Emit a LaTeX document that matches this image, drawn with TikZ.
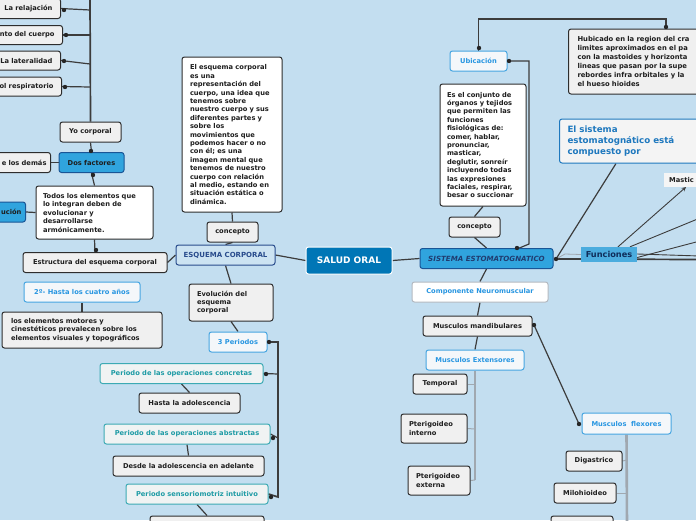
\documentclass[tikz,border=0pt]{standalone}
\usepackage{fontspec}
\setmainfont{DejaVu Sans}
\usetikzlibrary{arrows}

\definecolor{bgblue}{RGB}{195,222,240}
\definecolor{boxgray}{RGB}{240,240,240}
\definecolor{boxline}{RGB}{45,45,45}
\definecolor{txtdark}{RGB}{30,30,30}
\definecolor{midblue}{RGB}{48,164,222}
\definecolor{deepblue}{RGB}{25,85,150}
\definecolor{saludblue}{RGB}{0,118,182}
\definecolor{paleface}{RGB}{244,247,250}
\definecolor{lineblue}{RGB}{70,165,225}
\definecolor{txtblue}{RGB}{40,150,225}
\definecolor{tealface}{RGB}{240,243,243}
\definecolor{tealline}{RGB}{60,170,180}
\definecolor{txtteal}{RGB}{30,155,165}
\definecolor{navy}{RGB}{40,75,140}
\definecolor{linkgray}{RGB}{60,60,60}
\definecolor{branchgray}{RGB}{160,168,176}
\definecolor{sisblue}{RGB}{30,120,190}
\definecolor{funcblue}{RGB}{75,172,222}
\definecolor{functext}{RGB}{15,45,90}

\pgfdeclarelayer{back}
\pgfsetlayers{back,main}

\newcommand\mapfont{\bfseries\fontsize{6.7}{8.4}\selectfont}

\tikzset{
  box/.style={draw=boxline, fill=boxgray, rounded corners=2.5pt, line width=1pt,
    font=\mapfont, text=txtdark, inner sep=0pt, minimum height=20pt},
  wbox/.style={box, fill=white},
  bluebox/.style={box, fill=midblue, draw=deepblue},
  lbox/.style={box, fill=paleface, draw=lineblue, text=txtblue},
  tbox/.style={box, fill=tealface, draw=tealline, text=txtteal},
  cutl/.style={anchor=east, text width=90pt, align=right, inner xsep=8pt},
  link/.style={draw=linkgray, line width=1.2pt},
  trunk/.style={draw=linkgray, line width=1.7pt},
  gline/.style={draw=branchgray, line width=1pt},
  dotc/.style={fill=black!85},
}

\begin{document}
\begin{tikzpicture}[x=1pt, y=-1pt, >=stealth]
\useasboundingbox (0,0) rectangle (696,520);
\clip (0,0) rectangle (696,520);
\begin{pgfonlayer}{back}
\fill[bgblue] (0,0) rectangle (696,520);
\end{pgfonlayer}

% left branch
\node[box, cutl] (relax) at (61,8.5) {La relajación};
\node[box, cutl, minimum height=19pt] (cuerpo) at (63,35) {nto del cuerpo};
\node[box, cutl, minimum height=19pt] (lateral) at (61,60.5) {La lateralidad};
\node[box, cutl, minimum height=19pt] (respir) at (62,86.5) {ol respiratorio};
\node[box, minimum width=61pt] (yo) at (90.5,132) {Yo corporal};
\node[bluebox, minimum width=65pt] (dosf) at (91.5,162.5) {Dos factores};
\node[box, cutl, inner xsep=4pt] (demas) at (51,162.5) {e los demás};
\node[bluebox, cutl, inner xsep=4pt] (evolu) at (26,212) {ución};
\node[wbox, minimum width=117pt, minimum height=53pt, text width=103pt, align=left,
  inner xsep=7pt, font=\bfseries\fontsize{6.7}{8.5}\selectfont] (todos) at (94.5,212.5)
  {Todos los elementos que\\lo integran deben de\\evolucionar y\\desarrollarse\\armónicamente.};
\node[box, minimum width=144pt] (estruc) at (95,262.5) {Estructura del esquema corporal};
\node[lbox, minimum width=116pt] (hasta4) at (82,292) {2º- Hasta los cuatro años};
\node[box, minimum width=160pt, minimum height=36pt, text width=142pt, align=left,
  inner xsep=9pt] (motores) at (82,330)
  {los elementos motores y\\cinestéticos prevalecen sobre los\\elementos visuales y topográficos};

% esquema corporal
\node[wbox, minimum width=100pt, minimum height=155pt, text width=84pt, align=left,
  inner xsep=8pt] (defin) at (232,134.5)
  {El esquema corporal\\es una\\representación del\\cuerpo, una idea que\\tenemos sobre\\nuestro cuerpo y sus\\diferentes partes y\\sobre los\\movimientos que\\podemos hacer o no\\con él; es una\\imagen mental que\\tenemos de nuestro\\cuerpo con relación\\al medio, estando en\\situación estática o\\dinámica.};
\node[box, minimum width=51pt] (concepto1) at (232.5,232) {concepto};
\node[box, fill=bgblue!85!white, draw=navy, text=navy, minimum width=99pt,
  font=\bfseries\fontsize{7}{8}\selectfont] (esquema) at (225.5,255) {ESQUEMA CORPORAL};
\node[box, fill=saludblue, draw=white, text=white, minimum width=86pt, minimum height=27pt,
  font=\bfseries\fontsize{9}{10}\selectfont] (salud) at (349,260.5) {SALUD ORAL};
\node[box, minimum width=84pt, minimum height=37pt, text width=68pt, align=left,
  inner xsep=8pt] (evolucion) at (231,302.5) {Evolución del\\esquema\\corporal};
\node[lbox, minimum width=58pt] (periodos3) at (238,342) {3 Periodos};
\node[tbox, minimum width=163pt] (concretas) at (181.5,373.5) {Periodo de las operaciones concretas};
\node[box, minimum width=101pt] (adolesc) at (189.5,403) {Hasta la adolescencia};
\node[tbox, minimum width=166pt] (abstractas) at (187,434) {Periodo de las operaciones abstractas};
\node[box, minimum width=151pt] (desde) at (188.5,466) {Desde la adolescencia en adelante};
\node[tbox, minimum width=142pt] (sensorio) at (197,494) {Periodo sensoriomotriz intuitivo};
\node[box, minimum width=114pt, minimum height=24pt] (bajo1) at (207,528) {};

% sistema estomatognatico
\node[lbox, minimum width=57pt] (ubic) at (478.5,61) {Ubicación};
\node[box, anchor=west, minimum height=65pt, text width=150pt, align=left, inner xsep=9pt,
  font=\bfseries\fontsize{6.8}{9}\selectfont] (hubic) at (568,61.5)
  {Hubicado en la region del cra\\limites aproximados en el pa\\con la mastoides y horizonta\\lineas que pasan por la supe\\rebordes infra orbitales y la\\el hueso hioides};
\node[wbox, minimum width=86pt, minimum height=122pt, text width=72pt, align=left,
  inner xsep=7pt] (conjunto) at (483,145)
  {Es el conjunto de\\órganos y tejidos\\que permiten las\\funciones\\fisiológicas de:\\comer, hablar,\\pronunciar,\\masticar,\\deglutir, sonreír\\incluyendo todas\\las expresiones\\faciales, respirar,\\besar o succionar};
\node[box, anchor=west, fill=boxgray!70!white, draw=sisblue, text=sisblue, minimum height=44pt,
  text width=150pt, align=left, inner xsep=8pt,
  font=\bfseries\fontsize{8.7}{11}\selectfont] (sisdesc) at (559,141)
  {El sistema\\estomatognático está\\compuesto por};
\node[box, minimum width=51pt] (concepto2) at (474.5,227) {concepto};
\node[bluebox, minimum width=133pt, text=navy!80!black,
  font=\bfseries\itshape\fontsize{7.1}{8}\selectfont] (sistema) at (486.5,258.5) {SISTEMA ESTOMATOGNATICO};
\node[fill=funcblue, text=functext, minimum width=56pt, minimum height=15pt, inner sep=0pt,
  font=\bfseries\fontsize{8.2}{9}\selectfont] (funciones) at (609,254.5) {Funciones};
\node[fill=white!96!black, anchor=west, text=txtdark, minimum height=14pt, inner xsep=5pt,
  inner ysep=0pt, text width=60pt, align=left, font=\mapfont] (mastic) at (664,180) {Mastic};
\node[box, fill=white, draw=branchgray!80!white, text=txtblue, minimum width=136pt] (componente) at (480,292) {Componente Neuromuscular};
\node[box, minimum width=109pt] (mandib) at (477.5,326) {Musculos mandibulares};
\node[lbox, minimum width=98pt] (extens) at (475,360) {Musculos Extensores};
\node[box, minimum width=54pt] (temporal) at (440,384) {Temporal};
\node[box, minimum width=64pt, minimum height=29pt, text width=50pt, align=left,
  inner xsep=8pt] (ptint) at (434,428.5) {Pterigoideo\\interno};
\node[box, minimum width=62pt, minimum height=29pt, text width=46pt, align=left,
  inner xsep=8pt] (ptext) at (439,480.5) {Pterigoideo\\externa};
\node[lbox, minimum width=89pt, minimum height=21pt] (flexores) at (626.5,423.5) {Musculos\ \ flexores};
\node[box, minimum width=56pt] (digas) at (594,461) {Digastrico};
\node[box, minimum width=62pt] (milo) at (585,493) {Milohioideo};
\node[box, minimum width=62pt, minimum height=24pt] (bajo2) at (582,528) {};

% connector points
\coordinate (ytop) at (90,-5);
\coordinate (yb1) at (90,10);
\coordinate (yb2) at (90,35);
\coordinate (yb3) at (90,64);
\coordinate (yb4) at (90,87);
\coordinate (ptop) at (278,342);
\coordinate (pb1) at (278,374);
\coordinate (pb2) at (278,438);
\coordinate (pbot) at (278,497);
\coordinate (ucorner) at (666,19);
\coordinate (hubdot) at (666,29);
\coordinate (uc1) at (529,244);
\coordinate (sysdot) at (517,249);
\coordinate (sysright) at (556,259);
\coordinate (fstep) at (565,254);
\coordinate (e1) at (700,218);
\coordinate (e2) at (700,241);
\coordinate (e3) at (700,256);
\coordinate (e4) at (700,259.5);
\coordinate (mtip) at (686,187);
\coordinate (flexdot) at (579,424);
\coordinate (mandot) at (534,325);
\coordinate (exbot) at (475,480);
\coordinate (xb1) at (475,384);
\coordinate (xb2) at (475,429);
\coordinate (flbot) at (627,525);
\coordinate (fb1) at (627,460);
\coordinate (fb2) at (627,493);

\begin{pgfonlayer}{back}
\draw[trunk] (yo.north) -- (ytop);
\draw[link] (yb1) -- (relax.east);
\draw[link] (yb2) -- (cuerpo.east);
\draw[link] (yb3) -- (lateral.east);
\draw[link] (yb4) -- (respir.east);
\draw[link] (dosf.north) -- (yo.south);
\draw[link] (demas.east) -- (dosf.west);
\draw[link] (dosf.south) -- (todos.north);
\draw[link] (evolu.east) -- (todos.west);
\draw[link] (todos.south) -- (estruc.north);
\draw[link] (estruc.east) -- (esquema.west);
\draw[link] (hasta4.south) -- (motores.north);
\draw[link] (defin.south) -- (concepto1.north);
\draw[link] (concepto1.south) -- (esquema.north);
\draw[link] (esquema.east) -- (salud.west);
\draw[link] (esquema.south) -- (evolucion.north);
\draw[link] (evolucion.south) -- (periodos3.north);
\draw[trunk] (periodos3.east) -- (ptop) -- (pbot) -- (sensorio.east);
\draw[link] (pb1) -- (concretas.east);
\draw[link] (pb2) -- (abstractas.east);
\draw[link] (concretas.south) -- (adolesc.north);
\draw[link] (abstractas.south) -- (desde.north);
\draw[link] (sensorio.south) -- (bajo1.north);
\draw[link] (salud.east) -- (sistema.west);
\draw[link] (ubic.north) |- (ucorner) -- (hubdot);
\draw[link] (ubic.east) -| (uc1) -- (sysdot);
\draw[link] (conjunto.south) -- (concepto2.north);
\draw[link] (concepto2.south) -- (sistema.north);
\draw[link] (sysright) -- (sisdesc.south -| 616,0);
\draw[trunk] (sysright) -- (e4);
\draw[draw=branchgray, line width=0.8pt] (sysright) -- (fstep) -- (funciones.west);
\draw[link, line width=0.9pt, ->] ([xshift=9pt]funciones.north) -- (mtip);
\draw[link, line width=0.9pt] ([xshift=21pt]funciones.north) -- (e1);
\draw[link, line width=0.9pt] ([yshift=-3pt]funciones.east) -- (e2);
\draw[link, line width=0.9pt] ([yshift=0.5pt]funciones.east) -- (e3);
\draw[link] (sistema.south) -- (componente.north);
\draw[link] (componente.south) -- (mandib.north);
\draw[link] (mandib.south) -- (extens.north);
\draw[link] (mandot) -- (flexdot);
\draw[gline, line width=2.6pt] (extens.south) -- (exbot);
\draw[gline] (xb1) -- (temporal.east);
\draw[gline] (xb2) -- (ptint.east);
\draw[gline] (exbot) -- (ptext.east);
\draw[gline, line width=2.6pt] (flexores.south) -- (flbot);
\draw[gline] (fb1) -- (digas.east);
\draw[gline] (fb2) -- (milo.east);
\end{pgfonlayer}

% dots
\foreach \p in {{64,10},{66,35},{64,61},{65,87},{91,151},{93,175},{96,250},
  {269,342},{266,374},{273,438},{271,497},{479,48},{666,27},{509,61},{517,248},
  {556,259},{534,325},{579,424}}
  \fill[dotc] (\p) circle[radius=2.2];

\end{tikzpicture}
\end{document}
